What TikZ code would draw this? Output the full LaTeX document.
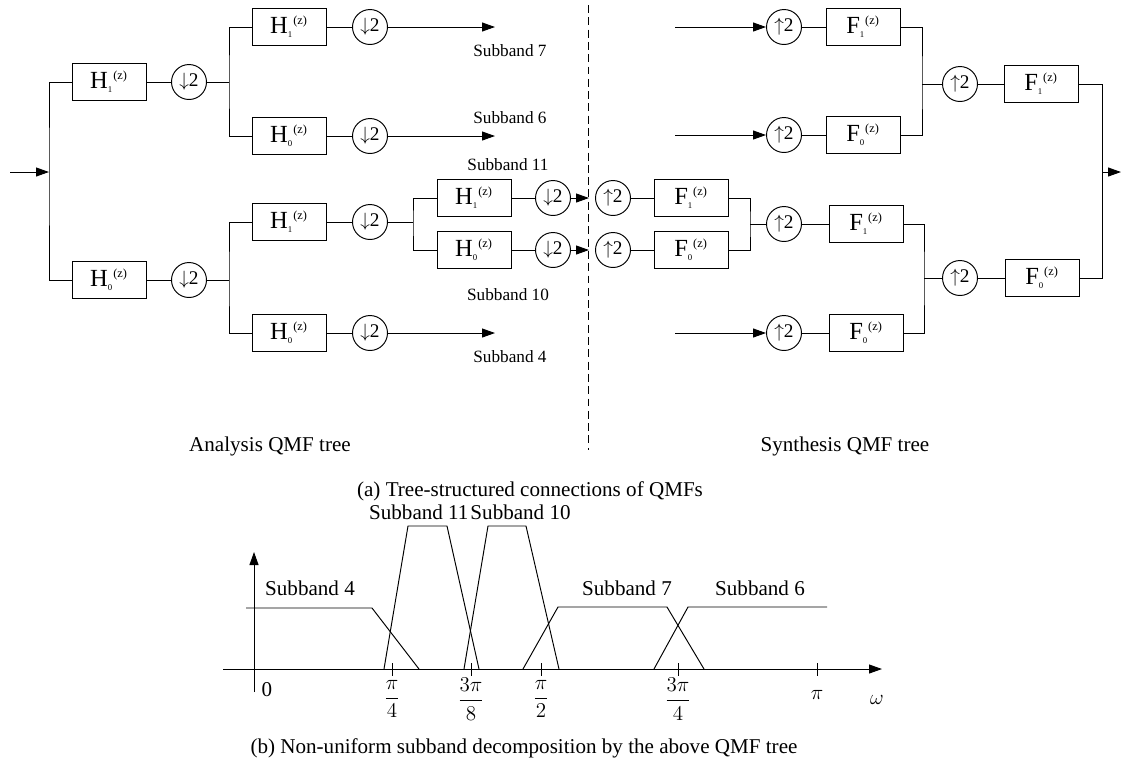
\documentclass[tikz,border=0pt]{standalone}
\usepackage{amsmath}
\usepackage{fontspec}
\setmainfont{Liberation Serif}
\usetikzlibrary{positioning, arrows.meta, calc}
\newcommand{\filt}[2]{#1$_{\mbox{\tiny #2}}{}^{\mbox{\scriptsize (z)}}$}

\begin{document}
\begin{tikzpicture}[
  x=0.02cm, y=-0.02cm, line width=0.55pt,
  box/.style={draw, minimum width=1.48cm, minimum height=0.74cm, inner sep=0pt, font=\fontsize{14}{16}\selectfont},
  rate/.style={draw, circle, minimum size=0.7cm, inner sep=0pt, font=\fontsize{11}{13}\selectfont},
  arr/.style={-{Triangle[length=2.6mm, width=1.8mm]}},
  band/.style={font=\fontsize{9.8}{12}\selectfont},
  txt/.style={font=\fontsize{12}{14}\selectfont}
]
\useasboundingbox (0,0) rectangle (1123,769);

% analysis tree
\node[box] (ha1) at (109,82) {\filt{H}{1}};
\node[rate] (da1) at (189,82) {$\downarrow$2};
\node[box] (ha0) at (109,280) {\filt{H}{0}};
\node[rate] (da0) at (189,280) {$\downarrow$2};
\node[box] (hb11) at (289,27) {\filt{H}{1}};
\node[rate] (db11) at (370,27) {$\downarrow$2};
\node[box] (hb10) at (289,136) {\filt{H}{0}};
\node[rate] (db10) at (370,136) {$\downarrow$2};
\node[box] (hb01) at (289,222) {\filt{H}{1}};
\node[rate] (db01) at (370,222) {$\downarrow$2};
\node[box] (hb00) at (289,333) {\filt{H}{0}};
\node[rate] (db00) at (370,333) {$\downarrow$2};
\node[box] (hc1) at (474,198) {\filt{H}{1}};
\node[rate] (dc1) at (553,198) {$\downarrow$2};
\node[box] (hc0) at (474,250) {\filt{H}{0}};
\node[rate] (dc0) at (553,250) {$\downarrow$2};

% synthesis tree
\node[rate] (uc1) at (613,198) {$\uparrow$2};
\node[box] (fc1) at (691,198) {\filt{F}{1}};
\node[rate] (uc0) at (613,250) {$\uparrow$2};
\node[box] (fc0) at (691,250) {\filt{F}{0}};
\node[rate] (ub11) at (784,27) {$\uparrow$2};
\node[box] (fb11) at (863,27) {\filt{F}{1}};
\node[rate] (ub10) at (784,135) {$\uparrow$2};
\node[box] (fb10) at (863,135) {\filt{F}{0}};
\node[rate] (ub01) at (784,224) {$\uparrow$2};
\node[box] (fb01) at (866,224) {\filt{F}{1}};
\node[rate] (ub00) at (784,333) {$\uparrow$2};
\node[box] (fb00) at (866,333) {\filt{F}{0}};
\node[rate] (ua1) at (960,84) {$\uparrow$2};
\node[box] (fa1) at (1041,84) {\filt{F}{1}};
\node[rate] (ua0) at (960,278) {$\uparrow$2};
\node[box] (fa0) at (1042,278) {\filt{F}{0}};

% junctions and free ends
\coordinate (in) at (10,172);
\coordinate (ja) at (49,172);
\coordinate (jb1) at (229,82);
\coordinate (jb0) at (229,280);
\coordinate (jc) at (413,222);
\coordinate (s7) at (495,27);
\coordinate (s6) at (495,136);
\coordinate (s4) at (495,333);
\coordinate (cut1) at (589,198);
\coordinate (cut0) at (589,250);
\coordinate (t7) at (675,27);
\coordinate (t6) at (675,135);
\coordinate (t4) at (675,333);
\coordinate (mc) at (750,224);
\coordinate (mb1) at (922,84);
\coordinate (mb0) at (924,278);
\coordinate (mo) at (1102,172);
\coordinate (out) at (1121,172);
\coordinate (sepTop) at (588,5);
\coordinate (sepBot) at (588,450);

\draw[arr] (in) -- (ja);
\draw (ha1) -| (ja) |- (ha0);
\draw (ha1) -- (da1) -- (jb1);
\draw (ha0) -- (da0) -- (jb0);
\draw (hb11) -| (jb1) |- (hb10);
\draw (hb01) -| (jb0) |- (hb00);
\draw (hb11) -- (db11);
\draw (hb10) -- (db10);
\draw (hb00) -- (db00);
\draw[arr] (db11) -- (s7);
\draw[arr] (db10) -- (s6);
\draw[arr] (db00) -- (s4);
\draw (hb01) -- (db01) -- (jc);
\draw (hc1) -| (jc) |- (hc0);
\draw (hc1) -- (dc1);
\draw (hc0) -- (dc0);
\draw[arr] (dc1) -- (cut1);
\draw[arr] (dc0) -- (cut0);
\draw[dash pattern=on 4.5pt off 2.5pt] (sepTop) -- (sepBot);

\draw (uc1) -- (fc1);
\draw (uc0) -- (fc0);
\draw (fc1) -| (mc) |- (fc0);
\draw (mc) -- (ub01) -- (fb01);
\draw[arr] (t7) -- (ub11);
\draw[arr] (t6) -- (ub10);
\draw[arr] (t4) -- (ub00);
\draw (ub11) -- (fb11);
\draw (ub10) -- (fb10);
\draw (ub00) -- (fb00);
\draw (fb11) -| (mb1) |- (fb10);
\draw (fb01) -| (mb0) |- (fb00);
\draw (mb1) -- (ua1) -- (fa1);
\draw (mb0) -- (ua0) -- (fa0);
\draw (fa1) -| (mo) |- (fa0);
\draw[arr] (mo) -- (out);

\node[band] (l7) at (510,51) {Subband 7};
\node[band] (l6) at (510,118) {Subband 6};
\node[band] (l11) at (508,165) {Subband 11};
\node[band] (l10) at (508,295) {Subband 10};
\node[band] (l4) at (510,357) {Subband 4};
\node[txt] (ana) at (270,446) {Analysis QMF tree};
\node[txt] (syn) at (845,446) {Synthesis QMF tree};
\node[txt] (capa) at (530,491) {(a) Tree-structured connections of QMFs};

% subband spectrum
\draw[arr] (223,669) -- (882,669);
\draw[arr] (254,692) -- (254,552);
\foreach \tx in {392,471,541,678,817}
  \draw (\tx,663) -- (\tx,676);
\draw (246,608) -- (372,608) -- (419,669);
\draw (384,669) -- (408,526) -- (447,526) -- (479,669);
\draw (464,669) -- (488,526) -- (526,526) -- (559,669);
\draw (523,669) -- (558,607) -- (667,607) -- (704,669);
\draw (654,669) -- (688,607) -- (827,607);

\node[txt] (b4) at (310,588) {Subband 4};
\node[txt, anchor=east, inner sep=0pt] (b11) at (469,512) {Subband 11};
\node[txt, anchor=west, inner sep=0pt] (b10) at (470,512) {Subband 10};
\node[txt] (b7) at (627,588) {Subband 7};
\node[txt] (b6) at (760,588) {Subband 6};
\node[txt] (w0) at (267,690) {0};
\node[txt] (w1) at (392,699) {$\dfrac{\pi}{4}$};
\node[txt] (w2) at (471,699) {$\dfrac{3\pi}{8}$};
\node[txt] (w3) at (541,699) {$\dfrac{\pi}{2}$};
\node[txt] (w4) at (678,699) {$\dfrac{3\pi}{4}$};
\node[txt] (w5) at (817,695) {$\pi$};
\node[txt] (w6) at (877,700) {$\omega$};
\node[txt] (capb) at (524,748) {(b) Non-uniform subband decomposition by the above QMF tree};
\end{tikzpicture}
\end{document}
